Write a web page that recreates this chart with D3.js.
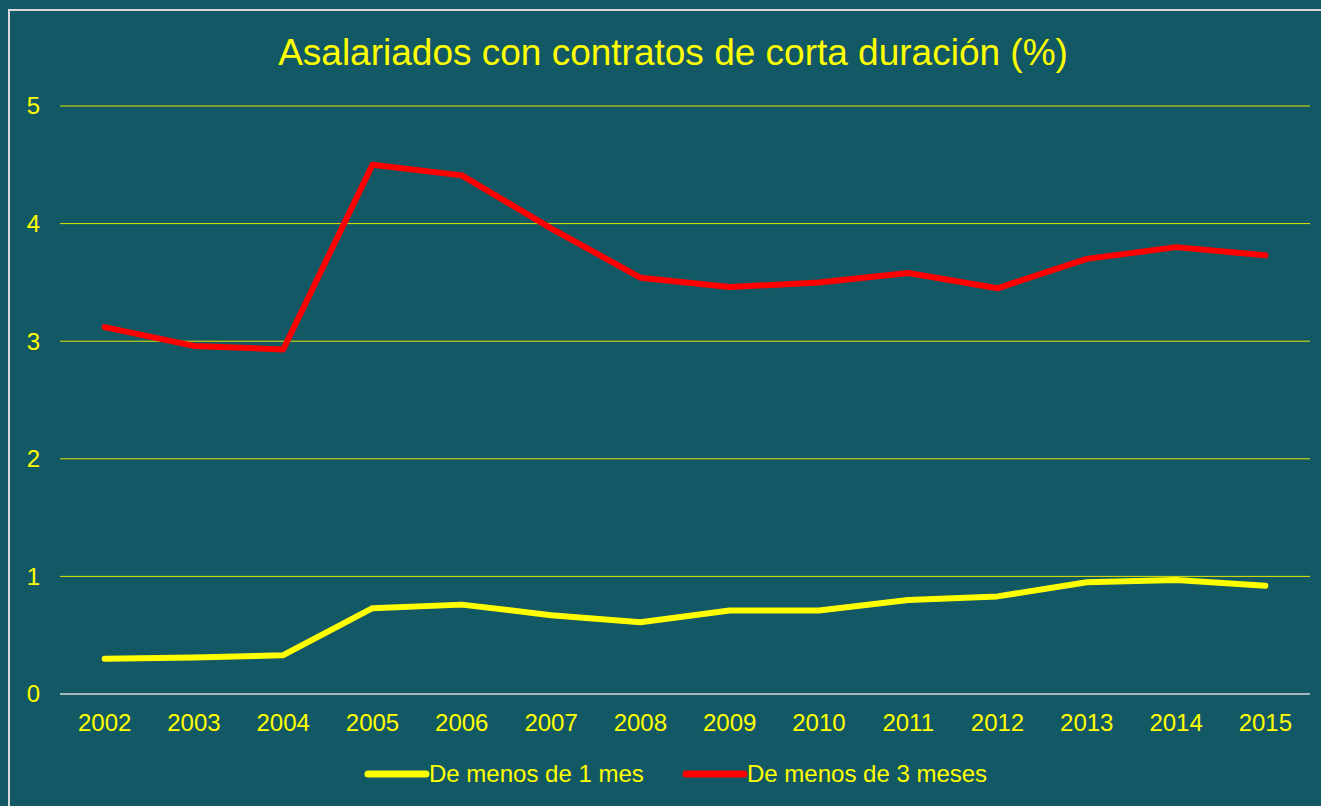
<!DOCTYPE html>
<html>
<head>
<meta charset="utf-8">
<script src="https://cdn.jsdelivr.net/npm/d3@7.9.0/dist/d3.min.js"></script>
<style>
  html, body { margin: 0; padding: 0; background: #125965; }
  svg { display: block; font-family: Arial, 'Liberation Sans', sans-serif; }
</style>
</head>
<body>
<svg id="chart" width="1321" height="806"></svg>
<script>
const years = ['2002','2003','2004','2005','2006','2007','2008','2009','2010','2011','2012','2013','2014','2015'];
const menos1mes = [0.30, 0.31, 0.33, 0.73, 0.76, 0.67, 0.61, 0.71, 0.71, 0.80, 0.83, 0.95, 0.97, 0.92];
const menos3meses = [3.12, 2.96, 2.93, 4.50, 4.41, 3.96, 3.54, 3.46, 3.50, 3.58, 3.45, 3.70, 3.80, 3.73];
const yTicks = [0, 1, 2, 3, 4, 5];

const series = [
  { name: 'De menos de 1 mes', values: menos1mes, color: '#ffff00' },
  { name: 'De menos de 3 meses', values: menos3meses, color: '#ff0000' }
];

const svg = d3.select('#chart');

// frame
svg.append('rect')
  .attr('x', 9).attr('y', 10)
  .attr('width', 1330).attr('height', 820)
  .attr('fill', '#125965')
  .attr('stroke', '#d9d9d9').attr('stroke-width', 2);

svg.append('text')
  .attr('x', 673).attr('y', 65)
  .attr('text-anchor', 'middle')
  .attr('fill', '#ffff00')
  .style('font-size', '37px')
  .text('Asalariados con contratos de corta duración (%)');

let x = d3.scaleBand().domain(years).range([60, 1310]);
let y = d3.scaleLinear().domain([0, 5]).range([694, 106]);

// gridlines
svg.append('g')
  .selectAll('line')
  .data(yTicks.filter(d => d > 0))
  .join('line')
  .attr('x1', 60).attr('x2', 1310)
  .attr('y1', d => y(d)).attr('y2', d => y(d))
  .attr('stroke', '#e6e600').attr('stroke-width', 1);

// baseline
svg.append('line')
  .attr('x1', 60).attr('x2', 1310)
  .attr('y1', y(0)).attr('y2', y(0))
  .attr('stroke', '#d9d9d9').attr('stroke-width', 1.5);

// y labels
svg.append('g')
  .selectAll('text')
  .data(yTicks)
  .join('text')
  .attr('x', 40).attr('y', d => y(d))
  .attr('dy', '0.35em')
  .attr('text-anchor', 'end')
  .attr('fill', '#ffff00')
  .style('font-size', '24px')
  .text(d => d);

// x labels
svg.append('g')
  .selectAll('text')
  .data(years)
  .join('text')
  .attr('x', d => x(d) + x.bandwidth() / 2)
  .attr('y', 731)
  .attr('text-anchor', 'middle')
  .attr('fill', '#ffff00')
  .style('font-size', '24px')
  .text(d => d);

let line = d3.line()
  .x((d, i) => x(years[i]) + x.bandwidth() / 2)
  .y(d => y(d));

series.forEach((s) => {
  svg.append('path')
    .attr('d', line(s.values))
    .attr('fill', 'none')
    .attr('stroke', s.color)
    .attr('stroke-width', 6)
    .attr('stroke-linejoin', 'round')
    .attr('stroke-linecap', 'round');
});

// legend
const legendX = [368, 686];
series.forEach((s, i) => {
  let g = svg.append('g').attr('transform', `translate(${legendX[i]},774)`);
  g.append('line')
    .attr('x1', 0).attr('x2', 58)
    .attr('stroke', s.color).attr('stroke-width', 7)
    .attr('stroke-linecap', 'round');
  g.append('text')
    .attr('x', 61).attr('dy', '0.35em')
    .attr('fill', '#ffff00')
    .style('font-size', '24px')
    .text(s.name);
});
</script>
</body>
</html>
